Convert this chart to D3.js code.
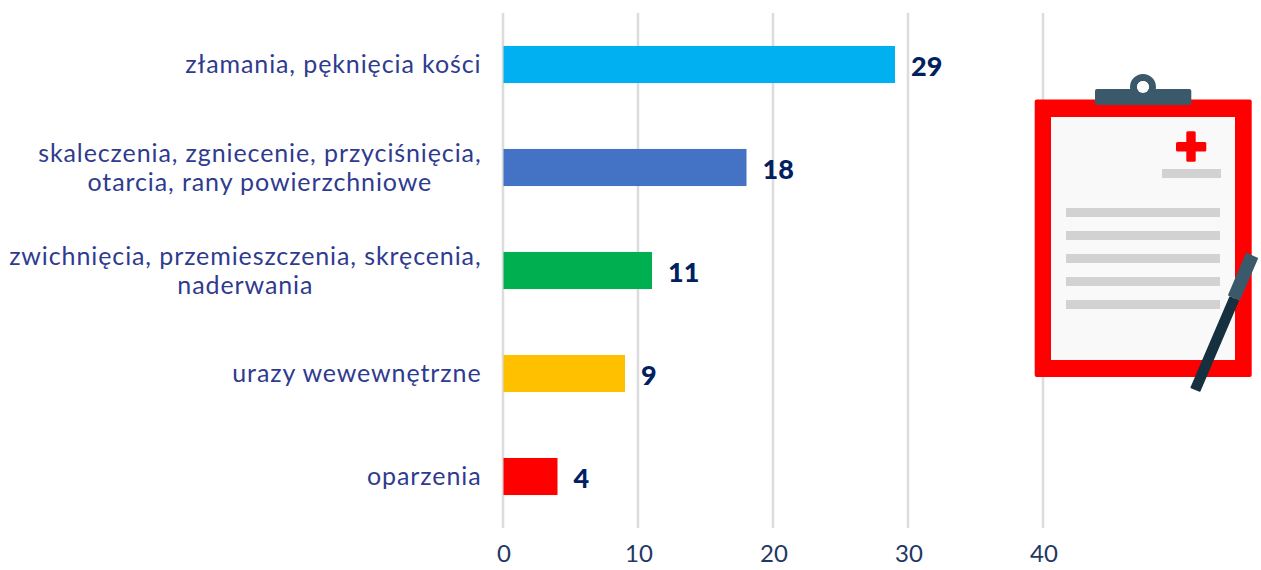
<!DOCTYPE html>
<html>
<head>
<meta charset="utf-8">
<script src="https://cdn.jsdelivr.net/npm/d3@7"></script>
<style>
body { margin: 0; background: #fff; }
text { font-family: Lato, sans-serif; }
.label { font-size: 25px; fill: #2f3b8f; letter-spacing: 0.9px; }
.value { font-size: 27px; font-weight: 900; fill: #002060; }
.axis text { font-size: 24px; fill: #1f3864; }
.axis path, .axis line { display: none; }
.grid { stroke: #dcdcdc; stroke-width: 2.5; }
</style>
</head>
<body>
<div id="chart"></div>
<script>
var categories = [
    ["złamania, pęknięcia kości"],
    ["skaleczenia, zgniecenie, przyciśnięcia,", "otarcia, rany powierzchniowe"],
    ["zwichnięcia, przemieszczenia, skręcenia,", "naderwania"],
    ["urazy wewewnętrzne"],
    ["oparzenia"]
];
var values = [29, 18, 11, 9, 4];
var colors = ["#00b0f0", "#4472c4", "#00b050", "#ffc000", "#ff0000"];
var xTicks = [0, 10, 20, 30, 40];

var margin = {top: 13, left: 503.5};
var width = 540;
var height = 515;

var svg = d3.select("#chart").append("svg")
    .attr("width", 1261)
    .attr("height", 570)
    .style("display", "block");

var g = svg.append("g")
    .attr("transform", "translate(" + margin.left + "," + margin.top + ")");

var x = d3.scaleLinear().domain([0, 40]).range([0, width]);
var y = d3.scaleBand().domain(d3.range(values.length)).range([0, height]).paddingInner(0.64).paddingOuter(0.32);

// gridlines, half a pixel left of the bar origin
g.selectAll(".grid")
    .data(xTicks)
    .enter().append("line")
    .attr("class", "grid")
    .attr("x1", function(d) { return x(d) - 0.5; })
    .attr("x2", function(d) { return x(d) - 0.5; })
    .attr("y1", 0)
    .attr("y2", height);

// axis
g.append("g")
    .attr("class", "axis")
    .attr("transform", "translate(0," + height + ")")
    .call(d3.axisBottom(x).tickValues(xTicks).tickSize(0).tickPadding(17))
    .selectAll("text").attr("dy", "0.72em");

// bars
g.selectAll(".bar")
    .data(values)
    .enter().append("rect")
    .attr("class", "bar")
    .attr("x", x(0))
    .attr("y", function(d, i) { return y(i); })
    .attr("width", function(d) { return x(d); })
    .attr("height", y.bandwidth())
    .attr("fill", function(d, i) { return colors[i]; });

// value labels
g.selectAll(".value")
    .data(values)
    .enter().append("text")
    .attr("class", "value")
    .attr("x", function(d) { return x(d) + 16; })
    .attr("y", function(d, i) { return y(i) + y.bandwidth() / 2 + 11; })
    .text(function(d) { return d; });

// category labels, wrapped lines centred in their block, block right aligned
var labelRight = -22;
var lineHeight = 29;
categories.forEach(function(lines, i) {
    var t = g.append("text").attr("class", "label").attr("text-anchor", "middle");
    lines.forEach(function(line, j) {
        t.append("tspan")
            .attr("y", y(i) + y.bandwidth() / 2 + 8.5 + (j - (lines.length - 1) / 2) * lineHeight)
            .text(line);
    });
    var w = d3.max(t.selectAll("tspan").nodes(), function(n) { return n.getComputedTextLength(); });
    t.selectAll("tspan").attr("x", labelRight - w / 2);
});

// clipboard picture
var icon = svg.append("g");
icon.append("rect").attr("x", 1034.7).attr("y", 99.5).attr("width", 217).attr("height", 277.5).attr("rx", 2).attr("fill", "#ff0000");
icon.append("rect").attr("x", 1051).attr("y", 117).attr("width", 184).attr("height", 243).attr("fill", "#f9f9f9");
icon.append("circle").attr("cx", 1143).attr("cy", 87).attr("r", 9.5).attr("fill", "none").attr("stroke", "#3a5a6c").attr("stroke-width", 7);
icon.append("rect").attr("x", 1095).attr("y", 89).attr("width", 96.3).attr("height", 16).attr("rx", 2).attr("fill", "#3a5a6c");
icon.append("circle").attr("cx", 1143).attr("cy", 87).attr("r", 6).attr("fill", "#fff");
icon.append("rect").attr("x", 1176).attr("y", 142).attr("width", 30.3).attr("height", 9.4).attr("rx", 1.5).attr("fill", "#ff0000");
icon.append("rect").attr("x", 1186.3).attr("y", 131.3).attr("width", 9.4).attr("height", 30.4).attr("rx", 1.5).attr("fill", "#ff0000");
icon.append("rect").attr("x", 1162).attr("y", 169).attr("width", 59).attr("height", 9).attr("fill", "#d2d2d2");
[208, 231, 254, 277, 300].forEach(function(top) {
    icon.append("rect").attr("x", 1066).attr("y", top).attr("width", 154).attr("height", 9).attr("fill", "#d2d2d2");
});
icon.append("polygon").attr("points", "1230,297 1238.2,301 1199.8,391 1191.2,387.5")
    .attr("fill", "#17303f").attr("stroke", "#17303f").attr("stroke-width", 1.5).attr("stroke-linejoin", "round");
icon.append("polygon").attr("points", "1246.5,253.5 1257.3,258.5 1239.5,299.5 1228.8,295")
    .attr("fill", "#3a5a6c").attr("stroke", "#3a5a6c").attr("stroke-width", 1.5).attr("stroke-linejoin", "round");
</script>
</body>
</html>
